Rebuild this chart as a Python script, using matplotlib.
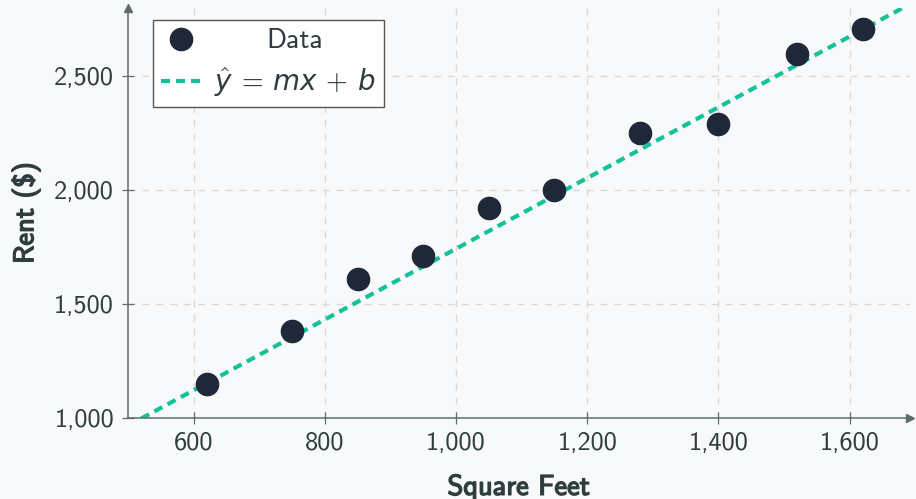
import numpy as np
import matplotlib
matplotlib.use("Agg")
import matplotlib.pyplot as plt
import matplotlib.patheffects as pe
from matplotlib.ticker import FuncFormatter
from matplotlib.transforms import Affine2D

# data
sq_feet = [620, 750, 850, 950, 1050, 1150, 1280, 1400, 1520, 1620]
rent = [1150, 1380, 1610, 1710, 1920, 2000, 2250, 2290, 2600, 2710]
fit_m = 1.553   # slope of the dashed line
fit_b = 190.0   # intercept of the dashed line
x_ticks = [600, 800, 1000, 1200, 1400, 1600]
y_ticks = [1000, 1500, 2000, 2500]

txt_col = '#2e3d3f'
axis_col = '#5c6b6c'
dot_col = '#1e2839'
line_col = '#14c29a'
bg = '#f8f9fa'

plt.rcParams['font.family'] = ['cmss10', 'DejaVu Sans']
plt.rcParams['mathtext.fontset'] = 'custom'
plt.rcParams['mathtext.rm'] = 'cmss10'
plt.rcParams['mathtext.it'] = 'DejaVu Sans:italic'
plt.rcParams['axes.unicode_minus'] = False
plt.rcParams['lines.scale_dashes'] = False

fig = plt.figure(figsize=(9.16, 4.99), dpi=100, facecolor=bg)
ax = fig.add_axes([128/916, (499-418)/499, (910-128)/916, (418-8)/499])
ax.set_facecolor(bg)

ax.set_xlim(500, 1692)
ax.set_ylim(1000, 2800)

# grid
ax.set_xticks(x_ticks)
ax.set_yticks(y_ticks)
ax.grid(True, color='#d8d8d8', linestyle=(0, (5, 5)), linewidth=0.9, zorder=0)

# fit line
xs = np.array([500, 1700])
ax.plot(xs, fit_m*xs + fit_b, color=line_col, linewidth=3, dashes=(6.5, 4.3),
        zorder=2, label=r'$\hat{y}\,=\,mx\,+\,b$')
# data points
ax.plot(sq_feet, rent, 'o', color=dot_col, markersize=16, zorder=3, label='Data')

# axis lines with arrows
for s in ['top', 'right']:
    ax.spines[s].set_visible(False)
for s in ['left', 'bottom']:
    ax.spines[s].set_color(axis_col)
    ax.spines[s].set_linewidth(1.1)
ax.plot(1, 0, '>', color=axis_col, markersize=6, transform=ax.transAxes, clip_on=False)
ax.plot(0, 1, '^', color=axis_col, markersize=6, transform=ax.transAxes, clip_on=False)

fmt = FuncFormatter(lambda v, p: f'{v:,.0f}')
ax.xaxis.set_major_formatter(fmt)
ax.yaxis.set_major_formatter(fmt)
ax.tick_params(direction='inout', length=8, width=0.9, color=axis_col,
               labelsize=19, labelcolor=txt_col, pad=6)

bold = [pe.withStroke(linewidth=1.0, foreground=txt_col)]
ax.set_xlabel('Square Feet', fontsize=20.5, color=txt_col, labelpad=14, path_effects=bold)
ax.set_ylabel('Rent ($)', fontsize=20.5, color=txt_col, labelpad=10, path_effects=bold)

h, l = ax.get_legend_handles_labels()
leg = ax.legend(h[::-1], l[::-1], loc='upper left', bbox_to_anchor=(0.032, 0.971),
                borderaxespad=0, fontsize=20, frameon=True, fancybox=False,
                edgecolor='#555555', facecolor='white', framealpha=1,
                handlelength=1.45, handletextpad=0.43, borderpad=0.3,
                labelspacing=0.42)
leg.get_frame().set_linewidth(1.0)
for t in leg.get_texts():
    t.set_color(txt_col)

# centre "Data" over the equation, as in the original legend
r = fig.canvas.get_renderer()
fig.draw(r)
t_data, t_eq = leg.get_texts()
dx = (t_eq.get_window_extent(r).width - t_data.get_window_extent(r).width) / 2
t_data.set_transform(t_data.get_transform() + Affine2D().translate(dx, 0))

fig.savefig('out.png', dpi=100, facecolor=bg)
